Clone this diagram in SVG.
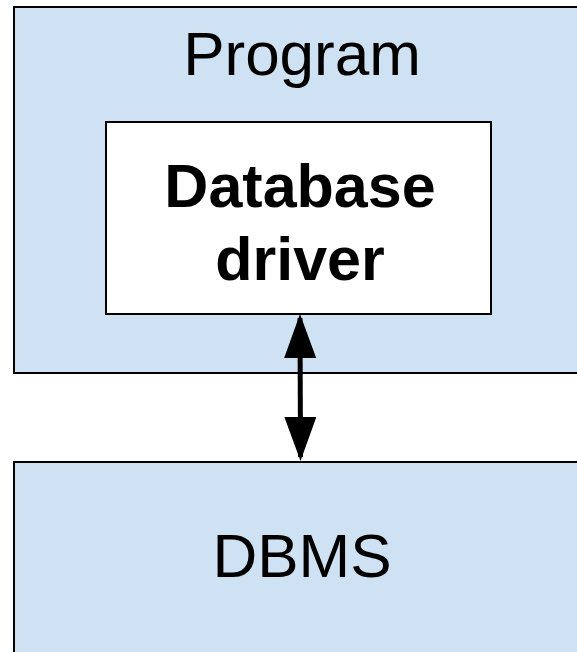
<svg xmlns="http://www.w3.org/2000/svg" width="577" height="652" viewBox="0 0 577 652">
<style>
.box{fill:#cfe2f3;stroke:#000;stroke-width:2}
.inner{fill:#fff;stroke:#000;stroke-width:2}
.t{font-family:"Liberation Sans",Arial,sans-serif;font-size:62px;fill:#000;text-anchor:middle}
.b{font-weight:bold;font-size:61px}
</style>
<defs>
<marker id="ah" markerWidth="44" markerHeight="32" refX="40" refY="16" orient="auto-start-reverse" markerUnits="userSpaceOnUse" viewBox="0 0 44 32">
<path d="M0,0 L44,16 L0,32 Z" fill="#000"/>
</marker>
</defs>
<g id="program">
<rect class="box" x="14" y="7" width="600" height="366"/>
<text class="t" x="302" y="75">Program</text>
</g>
<g id="driver">
<rect class="inner" x="106" y="122" width="385" height="192"/>
<text class="t b" x="300" y="207">Database</text>
<text class="t b" x="300" y="280">driver</text>
</g>
<g id="dbms">
<rect class="box" x="14" y="462" width="600" height="220"/>
<text class="t" x="302" y="577">DBMS</text>
</g>
<g id="connectors">
<line x1="300" y1="318" x2="300.5" y2="457" stroke="#000" stroke-width="5" marker-start="url(#ah)" marker-end="url(#ah)"/>
</g>
</svg>
